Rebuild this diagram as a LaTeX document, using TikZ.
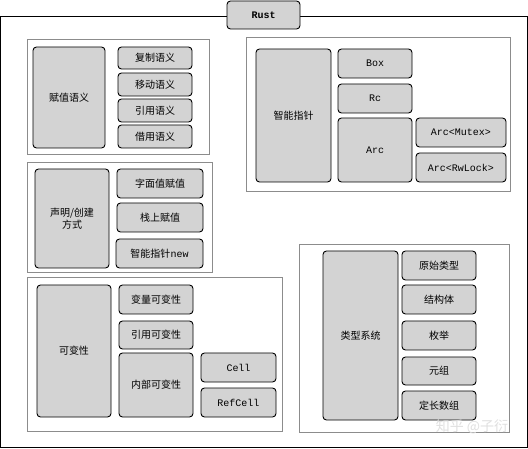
\documentclass[tikz,border=0pt]{standalone}
\usepackage{fontspec}
\newfontfamily\cjk{Noto Sans CJK SC}
\newfontfamily\mono{Liberation Mono}
\definecolor{boxfill}{HTML}{D3D3D3}
\definecolor{grpline}{HTML}{8C8C8C}
\tikzset{
  box/.style={draw=black, fill=boxfill, rounded corners=3.5pt, line width=0.9pt, inner sep=0pt, align=center, font=\cjk\fontsize{10}{12}\selectfont},
  monobox/.style={box, font=\mono\fontsize{10}{12}\selectfont},
  grp/.style={draw=grpline, line width=1pt, inner sep=0pt},
  outer/.style={draw=black, line width=1pt}
}
\newcommand\bx[7][box]{\node[#1, minimum width={(#5-#3)*1pt}, minimum height={(#6-#4)*1pt}] (#2) at ({(#3+#5)/2},{(#4+#6)/2}) {#7};}
\begin{document}
\begin{tikzpicture}[x=1pt,y=-1pt]
\useasboundingbox (0,0) rectangle (528,449);
\fill[white] (0,0) rectangle (528,449);
\node[outer, minimum width=526.5pt, minimum height=430.5pt, inner sep=0pt] (frame) at (263.75,232.25) {};
\bx[monobox]{rust}{227}{1}{300}{29}{\bfseries Rust}
% group 1
\bx[grp]{g1}{27}{40}{209}{155}{}
\bx{fuzhi}{33}{47}{105}{148}{赋值语义}
\bx{fz1}{118}{47}{192}{69}{复制语义}
\bx{fz2}{118}{73}{192}{96}{移动语义}
\bx{fz3}{118}{99}{192}{122}{引用语义}
\bx{fz4}{118}{125}{192}{148}{借用语义}
% group 2
\bx[grp]{g2}{27}{163}{212}{273}{}
\bx{shengming}{35}{169}{109}{268}{声明/创建\\方式}
\bx{sm1}{117}{169}{203}{198}{字面值赋值}
\bx{sm2}{117}{203}{203}{232}{栈上赋值}
\bx{sm3}{116}{239}{203}{268}{智能指针{\mono new}}
% group 3
\bx[grp]{g3}{27}{278}{282}{431}{}
\bx{kebian}{37}{285}{111}{417}{可变性}
\bx{kb1}{119}{285}{193}{314}{变量可变性}
\bx{kb2}{119}{321}{193}{349}{引用可变性}
\bx{kb3}{119}{353}{193}{417}{内部可变性}
\bx[monobox]{cell}{201}{353}{276}{382}{Cell}
\bx[monobox]{refcell}{201}{388}{276}{417}{RefCell}
% group 4
\bx[grp]{g4}{246}{38}{510}{192}{}
\bx{zhineng}{256}{49}{331}{182}{智能指针}
\bx[monobox]{boxn}{338}{49}{412}{78}{Box}
\bx[monobox]{rc}{338}{84}{412}{113}{Rc}
\bx[monobox]{arc}{338}{118}{412}{182}{Arc}
\bx[monobox]{arcm}{416}{118}{506}{147}{Arc<Mutex>}
\bx[monobox]{arcr}{416}{153}{506}{182}{Arc<RwLock>}
% group 5
\bx[grp]{g5}{299}{245}{509}{432}{}
\bx{leixing}{323}{251}{398}{420}{类型系统}
\bx{lx1}{402}{251}{476}{280}{原始类型}
\bx{lx2}{402}{285}{476}{314}{结构体}
\bx{lx3}{402}{321}{476}{350}{枚举}
\bx{lx4}{402}{357}{476}{385}{元组}
\bx{lx5}{402}{391}{476}{420}{定长数组}
% watermark
\node[text=black!12, font=\cjk\fontsize{14}{16}\selectfont, inner sep=0pt] (wm) at (472,427) {知乎 @子衍};
\end{tikzpicture}
\end{document}
